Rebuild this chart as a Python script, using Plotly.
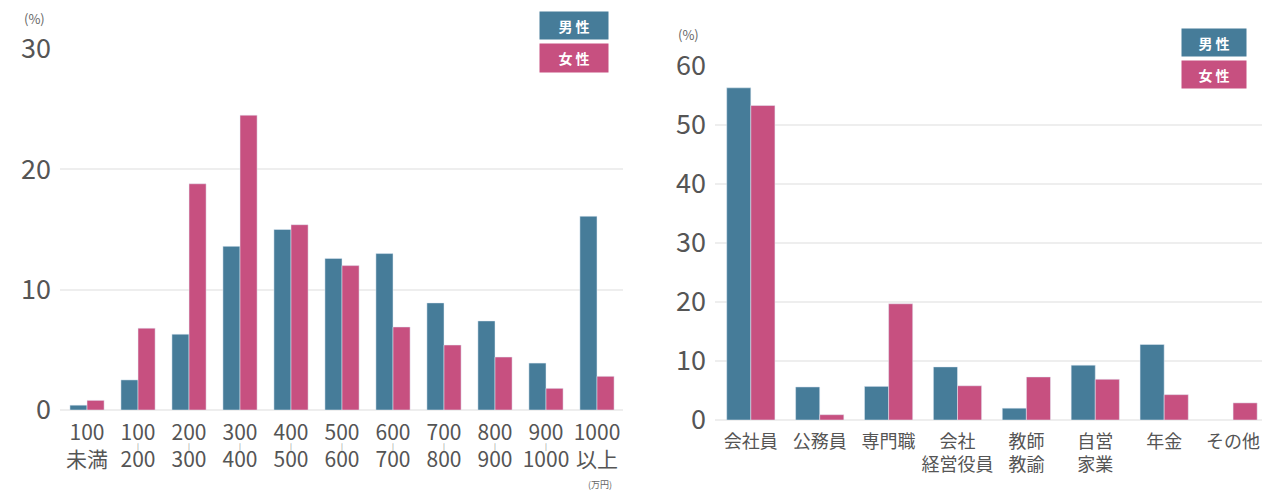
import plotly.graph_objects as go

# 年収 (左)
income_labels = ["100<br>未満", "100<br>200", "200<br>300", "300<br>400", "400<br>500",
                 "500<br>600", "600<br>700", "700<br>800", "800<br>900", "900<br>1000", "1000<br>以上"]
income_male = [0.4, 2.5, 6.3, 13.6, 15.0, 12.6, 13.0, 8.9, 7.4, 3.9, 16.1]
income_female = [0.8, 6.8, 18.8, 24.5, 15.4, 12.0, 6.9, 5.4, 4.4, 1.8, 2.8]

# 職業 (右)
job_labels = ["会社員", "公務員", "専門職", "会社<br>経営役員", "教師<br>教諭", "自営<br>家業", "年金", "その他"]
job_male = [56.3, 5.6, 5.7, 9.0, 2.0, 9.3, 12.8, None]
job_female = [53.3, 0.9, 19.7, 5.8, 7.3, 6.9, 4.3, 2.9]

MALE = "#467c99"
FEMALE = "#c75080"
TXT = "#555555"
FONT = "Noto Sans CJK JP"
OFF = 8  # page body margin
W, H = 1280 - OFF, 501 - OFF

def px_x(p):
    return (p - OFF) / W

def px_y(p):
    return 1 - (p - OFF) / H

fig = go.Figure()
wl = 0.335
fig.add_trace(go.Bar(x=income_labels, y=income_male, marker_color=MALE, width=wl, offset=-wl,
                     xaxis="x", yaxis="y", showlegend=False))
fig.add_trace(go.Bar(x=income_labels, y=income_female, marker_color=FEMALE, width=wl, offset=0,
                     xaxis="x", yaxis="y", showlegend=False))
wr = 0.35
fig.add_trace(go.Bar(x=job_labels, y=job_male, marker_color=MALE, width=wr, offset=-wr,
                     xaxis="x2", yaxis="y2", showlegend=False))
fig.add_trace(go.Bar(x=job_labels, y=job_female, marker_color=FEMALE, width=wr, offset=0,
                     xaxis="x2", yaxis="y2", showlegend=False))

grid = dict(showgrid=True, gridcolor="#eeeeee", gridwidth=2, zeroline=True,
            zerolinecolor="#eeeeee", zerolinewidth=2, showline=False, ticks="",
            automargin=False, tickfont=dict(family=FONT, size=27, color=TXT),
            ticklabelstandoff=8)

fig.update_layout(
    width=W, height=H,
    margin=dict(l=0, r=0, t=0, b=0),
    plot_bgcolor="white", paper_bgcolor="white",
    barmode="overlay",
    font=dict(family=FONT, color=TXT),
    xaxis=dict(domain=[px_x(60), px_x(623)], anchor="y", type="category",
               range=[-0.53, 10.51], showgrid=False, ticks="", automargin=False,
               tickangle=0, ticklabelstandoff=8,
               tickfont=dict(family=FONT, size=21, color=TXT)),
    yaxis=dict(domain=[px_y(410), px_y(49)], anchor="x", range=[0, 30],
               tickvals=[0, 10, 20, 30], **grid),
    xaxis2=dict(domain=[px_x(715), px_x(1262)], anchor="y2", type="category",
                range=[-0.52, 7.42], showgrid=False, ticks="", automargin=False,
                tickangle=0, ticklabelstandoff=9,
                tickfont=dict(family=FONT, size=18, color=TXT)),
    yaxis2=dict(domain=[px_y(420), px_y(66)], anchor="x2", range=[0, 60],
                tickvals=[0, 10, 20, 30, 40, 50, 60], **grid),
)

ann = [
    dict(text="(%)", x=px_x(34), y=px_y(19), font=dict(size=13, color="#666666")),
    dict(text="(%)", x=px_x(688), y=px_y(35), font=dict(size=13, color="#666666")),
    dict(text="(万円)", x=px_x(600), y=px_y(484), font=dict(size=9, color="#666666")),
]
for cx, cy, w, h, label, col in [
    (574, 25.5, 66, 25, "男 性", MALE), (574, 58, 66, 26, "女 性", FEMALE),
    (1214, 42.5, 62, 25, "男 性", MALE), (1214, 74.5, 62, 25, "女 性", FEMALE),
]:
    ann.append(dict(text=label, x=px_x(cx), y=px_y(cy), width=w, height=h,
                    bgcolor=col, font=dict(size=14, color="white", family=FONT, weight=600)))
for a in ann:
    a.update(xref="paper", yref="paper", showarrow=False, xanchor="center", yanchor="middle")
# small range marks between the two numbers of each income band
for lab in income_labels[1:-1]:
    ann.append(dict(text="|", x=lab, y=px_y(446), xref="x", yref="paper", showarrow=False,
                    xanchor="center", yanchor="middle", font=dict(size=7, color="#777777")))
fig.update_layout(annotations=ann)

fig.write_html("out.html")
